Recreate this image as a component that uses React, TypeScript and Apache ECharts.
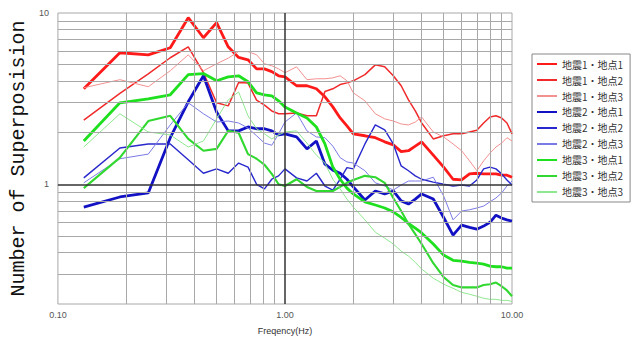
import { useEffect, useRef } from "react";
import * as echarts from "echarts";

const FREQ = [
  0.13, 0.1875, 0.25, 0.3125, 0.375, 0.4375, 0.5, 0.5625, 0.625, 0.6875, 0.75, 0.8125, 0.875, 0.9375, 1.0,
  1.125, 1.25, 1.375, 1.5, 1.625, 1.75, 1.875, 2.0,
  2.25, 2.5, 2.75, 3.0, 3.25, 3.5, 3.75, 4.0,
  4.5, 5.0, 5.5, 6.0, 6.5, 7.0, 7.5, 8.0, 8.5, 9.0, 9.5, 10.0,
];

const EQ1_SITE1 = [
  3.61, 5.86, 5.7, 6.27, 9.39, 7.17, 8.78, 6.35, 5.5, 5.33, 4.72, 4.72, 4.55, 4.3, 4.24,
  3.76, 3.76, 3.61, 3.24, 2.83, 2.44, 2.19, 1.97,
  1.92, 1.87, 1.77, 1.7, 1.55, 1.57, 1.67, 1.77,
  1.48, 1.26, 1.07, 1.06, 1.15, 1.16, 1.15, 1.15, 1.15, 1.13, 1.13, 1.1,
];
const EQ1_SITE2 = [
  2.37, 3.39, 4.41, 5.48, 6.35, 4.48, 2.99, 2.87, 3.93, 3.9, 3.1, 2.9, 2.68, 2.58, 2.58,
  2.61, 2.51, 2.51, 3.48, 3.61, 3.82, 3.91, 4.02,
  4.37, 4.98, 4.85, 4.3, 3.76, 3.11, 2.68, 2.28,
  1.84, 1.92, 1.97, 1.97, 2.02, 2.07, 2.28, 2.47, 2.51, 2.44, 2.28, 1.97,
];
const EQ1_SITE3 = [
  3.66, 4.08, 3.71, 4.6, 5.7, 4.6, 5.05, 5.45, 5.95, 5.95, 5.7, 5.05, 4.92, 4.72, 4.48,
  4.85, 4.08, 4.13, 4.13, 4.18, 4.3, 4.02, 3.42,
  3.07, 2.58, 2.41, 2.34, 2.25, 2.22, 2.31, 2.47,
  2.02, 1.89, 1.72, 1.57, 1.37, 1.2, 1.37, 1.52, 1.65, 1.74, 1.87, 1.79,
];
const EQ2_SITE1 = [
  0.735, 0.843, 0.89, 1.87, 3.03, 4.3, 2.64, 2.05, 2.05, 2.16, 2.11, 2.11, 2.05, 1.94, 1.97,
  1.89, 1.61, 1.79, 1.31, 1.21, 1.16, 1.07, 0.965,
  0.81, 0.914, 0.878, 0.914, 0.8, 0.767, 0.82, 0.878,
  0.82, 0.64, 0.505, 0.578, 0.56, 0.547, 0.57, 0.6, 0.66, 0.635, 0.62, 0.61,
];
const EQ2_SITE2 = [
  1.09, 1.63, 1.72, 1.72, 1.39, 1.16, 1.23, 1.16, 1.33, 1.26, 1.0, 0.94, 1.07, 1.12, 1.23,
  1.09, 1.045, 1.16, 0.977, 0.925, 1.07, 1.25, 1.23,
  1.72, 2.22, 2.08, 1.72, 1.28, 1.2, 1.12, 1.07,
  1.03, 1.0, 0.977, 0.99, 0.977, 1.06, 1.23, 1.26, 1.23, 1.15, 1.06, 0.99,
];
const EQ2_SITE3 = [
  1.02, 1.41, 1.5, 2.22, 2.99, 2.58, 2.31, 2.34, 2.28, 2.13, 1.92, 1.74, 1.69, 1.97, 2.31,
  2.61, 2.05, 1.89, 1.87, 1.67, 1.43, 1.35, 1.33,
  1.2, 1.02, 0.977, 0.925, 0.99, 1.045, 1.045, 1.045,
  1.1, 0.854, 0.62, 0.698, 0.71, 0.727, 0.746, 0.79, 0.832, 0.89, 0.977, 1.045,
];
const EQ3_SITE1 = [
  1.79, 2.99, 3.15, 3.33, 4.37, 4.43, 4.02, 4.24, 4.3, 3.97, 3.42, 3.33, 3.28, 3.07, 2.83,
  2.61, 2.44, 2.16, 1.72, 1.26, 1.07, 0.95, 0.878,
  0.79, 0.757, 0.727, 0.69, 0.64, 0.59, 0.555, 0.52,
  0.448, 0.386, 0.36, 0.356, 0.35, 0.346, 0.342, 0.333, 0.33, 0.33, 0.324, 0.324,
];
const EQ3_SITE2 = [
  0.95, 1.43, 2.34, 2.51, 1.84, 1.57, 1.61, 2.05, 2.0, 1.5, 1.41, 1.3, 1.15, 1.0, 0.977,
  1.07, 0.965, 0.914, 0.914, 0.914, 0.965, 1.02, 1.06,
  1.12, 1.1, 1.02, 0.832, 0.698, 0.586, 0.512, 0.448,
  0.346, 0.287, 0.258, 0.25, 0.25, 0.25, 0.258, 0.261, 0.267, 0.254, 0.24, 0.222,
];
const EQ3_SITE3 = [
  1.65, 2.58, 2.02, 1.94, 1.65, 1.79, 2.41, 3.11, 3.46, 2.51, 2.11, 1.97, 1.84, 1.94, 2.02,
  2.05, 1.74, 1.48, 1.33, 1.07, 0.94, 0.82, 0.736,
  0.62, 0.525, 0.485, 0.448, 0.407, 0.381, 0.35, 0.32,
  0.283, 0.261, 0.247, 0.234, 0.228, 0.222, 0.216, 0.213, 0.213, 0.21, 0.21, 0.207,
];

const SERIES_NAMES = [
  "地震1・地点1", "地震1・地点2", "地震1・地点3",
  "地震2・地点1", "地震2・地点2", "地震2・地点3",
  "地震3・地点1", "地震3・地点2", "地震3・地点3",
];
const SERIES_VALUES = [
  EQ1_SITE1, EQ1_SITE2, EQ1_SITE3,
  EQ2_SITE1, EQ2_SITE2, EQ2_SITE3,
  EQ3_SITE1, EQ3_SITE2, EQ3_SITE3,
];

// gridline positions (minor) on the log axes
const X_GRID = [0.2, 0.3, 0.4, 0.5, 0.6, 0.7, 0.8, 0.9, 2, 3, 4, 5, 6, 7, 8, 9];
const Y_GRID = [0.3, 0.4, 0.5, 0.6, 0.7, 0.8, 0.9, 2, 3, 4, 5, 6, 7, 8, 9];

const STYLES = [
  { color: "#ff1a1a", width: 2.8 },
  { color: "#f02a2a", width: 1.5 },
  { color: "#f49090", width: 1 },
  { color: "#1212c4", width: 2.8 },
  { color: "#2828cc", width: 1.4 },
  { color: "#7a7ae6", width: 1 },
  { color: "#1ee01e", width: 2.8 },
  { color: "#30d830", width: 2.1 },
  { color: "#8fe88f", width: 1 },
];

const near = (a: number, b: number) => Math.abs(a - b) < 1e-6 * Math.max(1, Math.abs(b));

export default function App() {
  const ref = useRef<HTMLDivElement>(null);
  useEffect(() => {
    document.body.style.margin = "0";
    const chart = echarts.init(ref.current!, undefined, { renderer: "svg" });

    const dataSeries = SERIES_NAMES.map((name, i) => ({
      name,
      type: "line",
      symbol: "none",
      z: 3,
      data: FREQ.map((f, j) => [f, SERIES_VALUES[i][j]]),
      lineStyle: { color: STYLES[i].color, width: STYLES[i].width },
      itemStyle: { color: STYLES[i].color, opacity: 0 },
      emphasis: { disabled: true },
    }));

    const gridSeries = {
      name: "grid",
      type: "line",
      symbol: "none",
      z: 1,
      data: [[1, 1]],
      lineStyle: { opacity: 0 },
      silent: true,
      markLine: {
        silent: true,
        symbol: ["none", "none"],
        label: { show: false },
        emphasis: { disabled: true },
        lineStyle: { color: "#a8a8a8", width: 1, type: "solid" },
        data: [
          ...X_GRID.map((v) => ({ xAxis: v })),
          ...Y_GRID.map((v) => ({ yAxis: v })),
          { xAxis: 1, lineStyle: { color: "#333", width: 1.5, type: "solid" } },
          { yAxis: 1, lineStyle: { color: "#333", width: 1.5, type: "solid" } },
        ],
      },
    };

    chart.setOption({
      animation: false,
      backgroundColor: "#fff",
      grid: {
        left: 53,
        right: 131,
        top: 13,
        bottom: 36,
        show: true,
        borderColor: "#a8a8a8",
        borderWidth: 1,
      },
      legend: {
        data: SERIES_NAMES,
        orient: "vertical",
        left: 532,
        top: 54,
        itemWidth: 20,
        itemHeight: 10,
        itemGap: 6,
        padding: [5, 7, 5, 4],
        borderColor: "#888",
        borderWidth: 1,
        backgroundColor: "#fff",
        selectedMode: false,
        itemStyle: { opacity: 0 },
        textStyle: { fontSize: 10, color: "#333", fontFamily: "Noto Sans CJK JP" },
      },
      xAxis: {
        type: "log",
        logBase: 10,
        min: 0.1,
        max: 10,
        name: "Freqency(Hz)",
        nameLocation: "middle",
        nameGap: 22,
        nameTextStyle: { fontSize: 9, color: "#333", fontFamily: "Liberation Sans" },
        axisLine: { show: false },
        axisTick: { show: false },
        splitLine: { show: false },
        axisLabel: {
          margin: 6,
          fontSize: 9,
          color: "#555",
          fontFamily: "Liberation Sans",
          formatter: (v: number) =>
            near(v, 0.1) ? "0.10" : near(v, 1) ? "1.00" : near(v, 10) ? "10.00" : "",
        },
      },
      yAxis: {
        type: "log",
        logBase: 10,
        min: 0.2,
        max: 10,
        name: "Number of Superposision",
        nameLocation: "middle",
        nameRotate: 90,
        nameGap: 22,
        nameTextStyle: { fontSize: 20, color: "#111", fontFamily: "Liberation Mono" },
        axisLine: { show: false },
        axisTick: { show: false },
        splitLine: { show: false },
        axisLabel: {
          margin: 9,
          fontSize: 9,
          color: "#555",
          fontFamily: "Liberation Sans",
          formatter: (v: number) => (near(v, 1) ? "1" : near(v, 10) ? "10" : ""),
        },
      },
      series: [gridSeries, ...dataSeries],
    });
    return () => chart.dispose();
  }, []);
  return <div ref={ref} style={{ width: 643, height: 340 }} />;
}
